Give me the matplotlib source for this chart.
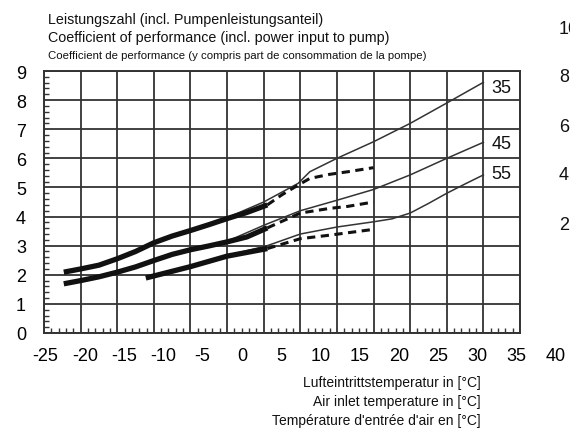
import matplotlib
matplotlib.use('Agg')
import matplotlib.pyplot as plt
from matplotlib.ticker import MultipleLocator

plt.rcParams['font.family'] = ['Liberation Sans', 'DejaVu Sans']

# ---------------- data ----------------
x_ticks = [-25, -20, -15, -10, -5, 0, 5, 10, 15, 20, 25, 30, 35, 40]
x_tick_labels = ['-25', '-20', '-15', '-10', '-5', '0', '5', '10', '15', '20', '25', '30', '35', '40']
y_ticks = [0, 1, 2, 3, 4, 5, 6, 7, 8, 9]
y_tick_labels = ['0', '1', '2', '3', '4', '5', '6', '7', '8', '9']

series_names = ['35', '45', '55']
series_label_y = [8.45, 6.5, 5.47]

thick35_x = [-22.3, -20, -17.5, -15, -12.5, -10, -7.5, -5, -2.5, 0, 2.7, 5.5]
thick35_y = [2.09, 2.2, 2.33, 2.55, 2.8, 3.1, 3.33, 3.52, 3.72, 3.93, 4.14, 4.4]
thick45_x = [-22.3, -20, -17.5, -15, -12.5, -10, -7.5, -5, -2.5, 0, 2.7, 5.5]
thick45_y = [1.69, 1.8, 1.93, 2.09, 2.27, 2.49, 2.7, 2.86, 2.99, 3.13, 3.3, 3.61]
thick55_x = [-11.1, -10, -5, 0, 5.5]
thick55_y = [1.89, 1.96, 2.28, 2.64, 2.9]

thin35_x = [-5, 0, 5, 9.7, 11.3, 15, 20, 25, 30, 35]
thin35_y = [3.55, 3.96, 4.5, 5.14, 5.54, 6.0, 6.57, 7.2, 7.9, 8.61]
thin45_x = [-5, 0, 5.2, 10, 15, 20, 25, 30, 35]
thin45_y = [2.86, 3.15, 3.72, 4.2, 4.56, 4.93, 5.43, 6.0, 6.55]
thin55_x = [-5, 0, 5.5, 10, 15, 20, 22.5, 25, 27.5, 30, 32.5, 35]
thin55_y = [2.28, 2.66, 3.0, 3.4, 3.64, 3.82, 3.92, 4.12, 4.45, 4.8, 5.12, 5.43]

dash35_x = [5.5, 7.5, 9.7, 11.3, 14, 16.5, 20]
dash35_y = [4.4, 4.75, 5.08, 5.31, 5.45, 5.54, 5.68]
dash45_x = [5.5, 10, 14, 16.5, 20]
dash45_y = [3.61, 4.12, 4.28, 4.35, 4.5]
dash55_x = [5.5, 10, 14, 20]
dash55_y = [2.9, 3.24, 3.36, 3.56]

title_lines = ['Leistungszahl (incl. Pumpenleistungsanteil)',
               'Coefficient of performance (incl. power input to pump)',
               'Coefficient de performance (y compris part de consommation de la pompe)']
xlabel_lines = ['Lufteintrittstemperatur in [°C]',
                'Air inlet temperature in [°C]',
                "Température d'entrée d'air en [°C]"]
right_cut_labels = ['10', '8', '6', '4', '2']

# ---------------- figure ----------------
W, H = 570, 431
fig = plt.figure(figsize=(W / 100, H / 100), dpi=100)
fig.patch.set_facecolor('white')

ax = fig.add_axes([44 / W, (H - 334) / H, 476 / W, 262 / H])
ax.set_xlim(-25, 40)
ax.set_ylim(0, 9)

grid_c = '#333333'
ax.set_xticks(x_ticks)
ax.set_yticks(y_ticks)
ax.set_xticklabels([])
ax.set_yticklabels(y_tick_labels, fontsize=13)
ax.xaxis.set_minor_locator(MultipleLocator(1))
ax.yaxis.set_minor_locator(MultipleLocator(0.2))
ax.tick_params(axis='both', which='major', length=0, direction='in')
ax.tick_params(axis='y', which='major', pad=13)
ax.tick_params(axis='both', which='minor', direction='in', length=3.5, width=1.0, color=grid_c)
ax.grid(True, which='major', color=grid_c, linewidth=1.3)
for s in ax.spines.values():
    s.set_color(grid_c)
    s.set_linewidth(1.4)

line_c = '#111111'
for tx, ty in [(thin35_x, thin35_y), (thin45_x, thin45_y), (thin55_x, thin55_y)]:
    ax.plot(tx, ty, color='#333333', linewidth=1.1, solid_joinstyle='round', zorder=3)
for dx, dy in [(dash35_x, dash35_y), (dash45_x, dash45_y), (dash55_x, dash55_y)]:
    ax.plot(dx, dy, color=line_c, linewidth=2.2, dashes=(2.7, 1.8), zorder=4)
for kx, ky in [(thick35_x, thick35_y), (thick45_x, thick45_y), (thick55_x, thick55_y)]:
    ax.plot(kx, ky, color=line_c, linewidth=3.8, solid_capstyle='butt',
            solid_joinstyle='round', zorder=5)

for name, yy in zip(series_names, series_label_y):
    ax.text(37.5, yy, name, fontsize=13, ha='center', va='center', color='#111111', zorder=6)

# tick labels of the x axis (spaced independently of the grid, as in the original)
lab_ax = fig.add_axes([45.5 / W, (H - 334) / H, (556 - 45.5) / W, 0.0001])
lab_ax.set_xlim(-25, 40)
lab_ax.set_xticks(x_ticks)
lab_ax.set_xticklabels(x_tick_labels, fontsize=13)
lab_ax.set_yticks([])
lab_ax.tick_params(axis='x', length=0, pad=10)
lab_ax.patch.set_alpha(0)
for s in lab_ax.spines.values():
    s.set_visible(False)

# titles
title_sizes = [10.3, 10.3, 8.2]
title_y = [20, 38, 56]
for txt, fs, yy in zip(title_lines, title_sizes, title_y):
    fam = ['Liberation Sans Narrow', 'Liberation Sans', 'DejaVu Sans'] if fs < 9 else ['Liberation Sans', 'DejaVu Sans']
    fig.text(48 / W, 1 - yy / H, txt, fontsize=fs, ha='left', va='center', family=fam, color='#111111')

# x axis label lines
for i, txt in enumerate(xlabel_lines):
    fig.text(481 / W, 1 - (383 + i * 19) / H, txt, fontsize=10, ha='right', va='center', color='#111111')

# partially visible ticks from a neighbouring chart (cut off at the right edge)
for i, txt in enumerate(right_cut_labels):
    fig.text(559 / W, 1 - (29 + i * 49) / H, txt, fontsize=13, ha='left', va='center', color='#111111')

fig.savefig('out.png', dpi=100, facecolor='white')
